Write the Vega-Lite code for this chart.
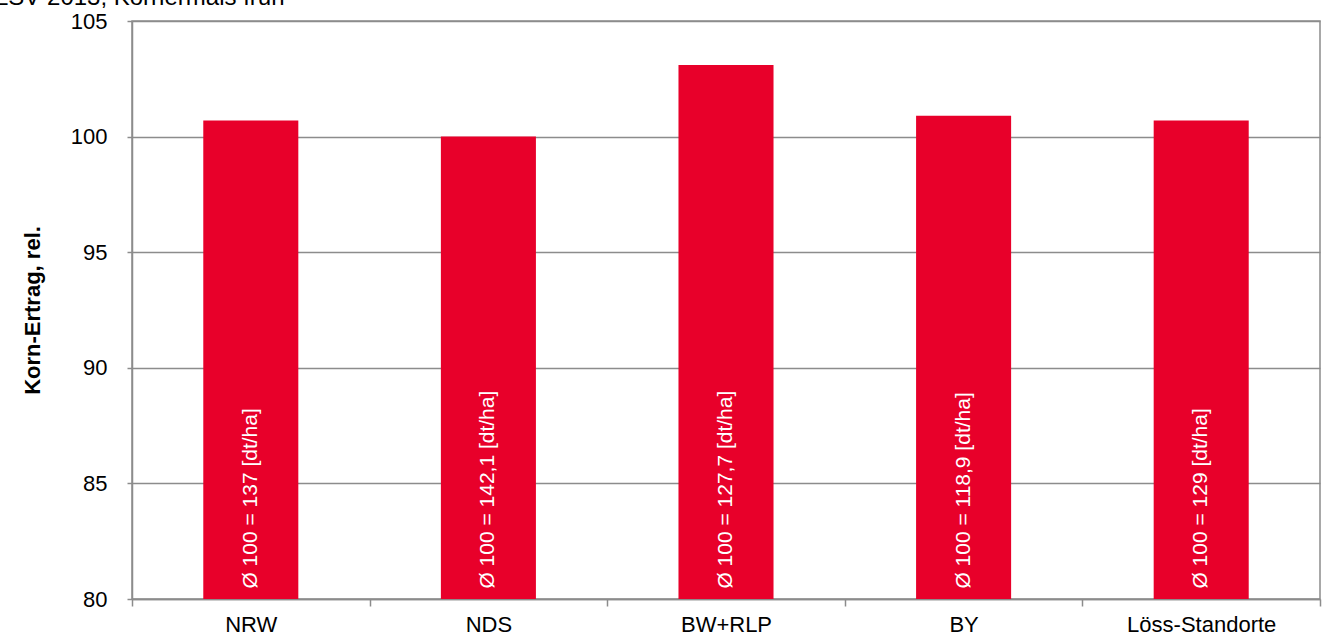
{
  "$schema": "https://vega.github.io/schema/vega-lite/v6.json",
  "width": 1188,
  "height": 578,
  "autosize": {"type": "none"},
  "padding": {"left": 132, "top": 21, "right": 5, "bottom": 40},
  "background": "white",
  "title": {
    "text": "LSV 2013, Körnermais früh",
    "anchor": "start",
    "frame": "group",
    "orient": "top",
    "baseline": "alphabetic",
    "offset": -19,
    "dx": -137,
    "font": "Liberation Sans",
    "fontSize": 24,
    "fontWeight": "normal",
    "color": "#000000"
  },
  "config": {
    "view": {"stroke": "#8c8c8c", "strokeWidth": 1.5},
    "font": "Liberation Sans"
  },
  "data": {
    "values": [
      {"region": "NRW", "ertrag": 100.7, "label": "Ø 100 = 137 [dt/ha]"},
      {"region": "NDS", "ertrag": 100.0, "label": "Ø 100 = 142,1 [dt/ha]"},
      {"region": "BW+RLP", "ertrag": 103.1, "label": "Ø 100 = 127,7 [dt/ha]"},
      {"region": "BY", "ertrag": 100.9, "label": "Ø 100 = 118,9 [dt/ha]"},
      {"region": "Löss-Standorte", "ertrag": 100.7, "label": "Ø 100 = 129 [dt/ha]"}
    ]
  },
  "encoding": {
    "x": {
      "field": "region",
      "type": "nominal",
      "sort": null,
      "scale": {"paddingInner": 0, "paddingOuter": 0},
      "axis": {
        "title": null,
        "labelAngle": 0,
        "labelFont": "Liberation Sans",
        "labelFontSize": 22,
        "labelColor": "#000000",
        "labelPadding": 8,
        "tickBand": "extent",
        "ticks": true,
        "tickSize": 7,
        "tickColor": "#8c8c8c",
        "tickWidth": 1.5,
        "domainColor": "#8c8c8c",
        "domainWidth": 1.5,
        "grid": false
      }
    }
  },
  "layer": [
    {
      "mark": {"type": "bar", "color": "#E8002A", "width": {"band": 0.4}, "clip": true},
      "encoding": {
        "y": {
          "field": "ertrag",
          "type": "quantitative",
          "scale": {"domain": [80, 105], "zero": false, "nice": false},
          "axis": {
            "title": "Korn-Ertrag, rel.",
            "titleFont": "Liberation Sans",
            "titleFontSize": 22,
            "titleFontWeight": "bold",
            "titleColor": "#000000",
            "titlePadding": 26,
            "values": [80, 85, 90, 95, 100, 105],
            "labelFont": "Liberation Sans",
            "labelFontSize": 22,
            "labelColor": "#000000",
            "labelPadding": 20,
            "tickSize": 5,
            "tickColor": "#8c8c8c",
            "tickWidth": 1.5,
            "domainColor": "#8c8c8c",
            "domainWidth": 1.5,
            "grid": true,
            "gridColor": "#8c8c8c",
            "gridWidth": 1.5
          }
        }
      }
    },
    {
      "mark": {
        "type": "text",
        "angle": 270,
        "align": "left",
        "baseline": "middle",
        "color": "white",
        "font": "Liberation Sans",
        "fontSize": 21
      },
      "encoding": {
        "y": {"datum": 80.45, "type": "quantitative"},
        "text": {"field": "label"}
      }
    }
  ]
}
